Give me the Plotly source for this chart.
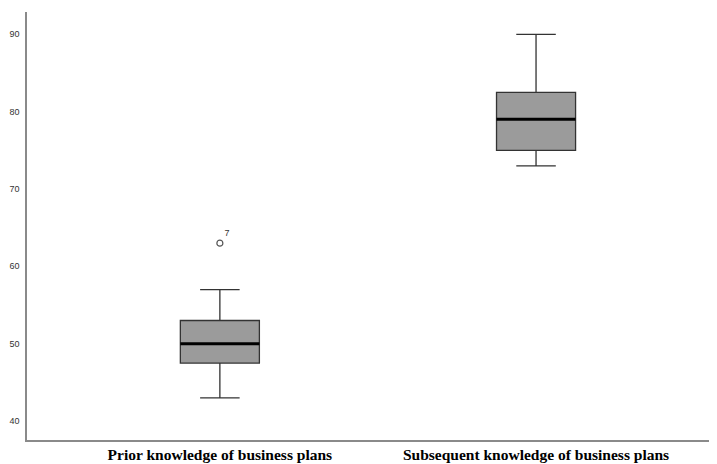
import plotly.graph_objects as go

categories = ["Prior knowledge of business plans", "Subsequent knowledge of business plans"]
lower_whisker = [43, 73]
q1 = [47.5, 75]
median = [50, 79]
q3 = [53, 82.5]
upper_whisker = [57, 90]
outlier_cat = ["Prior knowledge of business plans"]
outlier_val = [63]
outlier_label = ["7"]
y_ticks = [40, 50, 60, 70, 80, 90]

box_width = 0.25

fig = go.Figure()
fig.add_trace(go.Box(
    x=categories,
    q1=q1, median=median, q3=q3,
    lowerfence=lower_whisker, upperfence=upper_whisker,
    width=box_width, whiskerwidth=0.5,
    fillcolor="#9b9b9b",
    line=dict(color="#333333", width=1.3),
    boxpoints=False, showlegend=False, hoverinfo="skip",
))
fig.add_trace(go.Scatter(
    x=outlier_cat, y=outlier_val, mode="markers+text",
    text=outlier_label, textposition="top right",
    textfont=dict(family="Liberation Sans, Arial", size=9, color="#333333"),
    marker=dict(symbol="circle-open", size=6, color="#555555", line=dict(width=1.2)),
    showlegend=False, hoverinfo="skip",
))

shapes = []
for i, m in enumerate(median):
    shapes.append(dict(type="line", xref="x", yref="y",
                       x0=i - box_width / 2, x1=i + box_width / 2, y0=m, y1=m,
                       line=dict(color="#000000", width=3)))

fig.update_layout(
    width=709, height=456,
    margin=dict(l=19, r=2, t=4, b=24, autoexpand=False),
    plot_bgcolor="white", paper_bgcolor="white",
    shapes=shapes,
    xaxis=dict(
        type="category", range=[-0.61, 1.566], automargin=False,
        showline=True, linecolor="#8a8a8a", linewidth=1.5,
        showgrid=False, ticks="", zeroline=False,
        tickfont=dict(family="Liberation Serif, Times New Roman", size=15.5, color="#000000", weight="bold"),
        ticklabelstandoff=0,
    ),
    yaxis=dict(
        range=[37.55, 92.88], tickvals=y_ticks, automargin=False,
        showline=True, linecolor="#8a8a8a", linewidth=1.5,
        showgrid=False, ticks="", zeroline=False,
        tickfont=dict(family="Liberation Sans, Arial", size=9, color="#333333"),
        ticklabelstandoff=4,
    ),
)

fig.write_html("out.html")
